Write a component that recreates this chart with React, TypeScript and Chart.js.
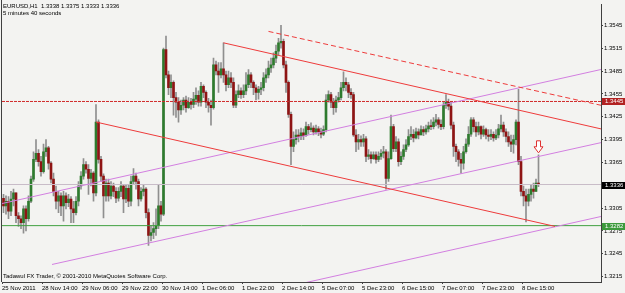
import React, { useEffect, useRef } from 'react';
import { Chart, registerables } from 'chart.js';

Chart.register(...registerables);

const symbolName = 'EURUSD';
const periodName = 'H1';
const timeLeft = '5 minutes 40 seconds';
const copyright = 'Tadawul FX Trader, © 2001-2010 MetaQuotes Software Corp.';

const firstOpen = 1.3318;
const closes = [
  1.3308, 1.3314, 1.3301, 1.3317, 1.3325, 1.3295, 1.3291, 1.3286, 1.3304, 1.3291,
  1.3314, 1.3343, 1.3369, 1.3377, 1.3366, 1.3353, 1.3379, 1.3384, 1.3364, 1.3343,
  1.3327, 1.3314, 1.3321, 1.3308, 1.3321, 1.3312, 1.3317, 1.3304, 1.3299, 1.3314,
  1.3334, 1.3347, 1.3362, 1.3356, 1.3344, 1.3351, 1.3325, 1.3418, 1.3369, 1.3347,
  1.3321, 1.3338, 1.3321, 1.3334, 1.3327, 1.3318, 1.3327, 1.3334, 1.3317, 1.3331,
  1.3314, 1.3340, 1.3347, 1.3340, 1.3317, 1.3327, 1.3330, 1.3299, 1.3269, 1.3273,
  1.3278, 1.3282, 1.3308, 1.3297, 1.3513, 1.3480, 1.3463, 1.3470, 1.3450, 1.3444,
  1.3434, 1.3440, 1.3447, 1.3437, 1.3444, 1.3441, 1.3448, 1.3453, 1.3444, 1.3465,
  1.3457, 1.3444, 1.3440, 1.3437, 1.3493, 1.3485, 1.3480, 1.3488, 1.3480, 1.3467,
  1.3476, 1.3470, 1.3440, 1.3454, 1.3459, 1.3454, 1.3459, 1.3467, 1.3480, 1.3470,
  1.3463, 1.3457, 1.3461, 1.3463, 1.3476, 1.3480, 1.3489, 1.3493, 1.3502, 1.3511,
  1.3522, 1.3524, 1.3493, 1.3470, 1.3428, 1.3386, 1.3395, 1.3401, 1.3399, 1.3404,
  1.3400, 1.3412, 1.3408, 1.3410, 1.3405, 1.3409, 1.3405, 1.3402, 1.3408, 1.3447,
  1.3454, 1.3444, 1.3437, 1.3447, 1.3450, 1.3463, 1.3470, 1.3467, 1.3457, 1.3454,
  1.3401, 1.3392, 1.3395, 1.3392, 1.3396, 1.3373, 1.3375, 1.3370, 1.3375, 1.3369,
  1.3373, 1.3377, 1.3379, 1.3344, 1.3370, 1.3412, 1.3383, 1.3392, 1.3366, 1.3373,
  1.3382, 1.3388, 1.3399, 1.3402, 1.3397, 1.3405, 1.3401, 1.3408, 1.3405, 1.3409,
  1.3413, 1.3412, 1.3418, 1.3421, 1.3415, 1.3412, 1.3440, 1.3444, 1.3439, 1.3414,
  1.3386, 1.3379, 1.3369, 1.3364, 1.3379, 1.3389, 1.3402, 1.3421, 1.3412, 1.3405,
  1.3412, 1.3402, 1.3408, 1.3401, 1.3399, 1.3402, 1.3397, 1.3401, 1.3409, 1.3414,
  1.3405, 1.3399, 1.3392, 1.3389, 1.3395, 1.3418, 1.3366, 1.3327, 1.3321, 1.3314,
  1.3323, 1.3330, 1.3327, 1.3338, 1.3336,
];
const highs = [
  1.3323, 1.3321, 1.3320, 1.3327, 1.3330, 1.3325, 1.3299, 1.3295, 1.3308, 1.3308,
  1.3321, 1.3347, 1.3379, 1.3395, 1.3382, 1.3373, 1.3389, 1.3395, 1.3386, 1.3366,
  1.3351, 1.3334, 1.3327, 1.3325, 1.3327, 1.3325, 1.3323, 1.3320, 1.3314, 1.3320,
  1.3340, 1.3353, 1.3370, 1.3366, 1.3362, 1.3356, 1.3353, 1.3441, 1.3421, 1.3373,
  1.3350, 1.3343, 1.3343, 1.3340, 1.3338, 1.3332, 1.3332, 1.3340, 1.3336, 1.3336,
  1.3335, 1.3347, 1.3357, 1.3351, 1.3343, 1.3332, 1.3336, 1.3332, 1.3304, 1.3282,
  1.3286, 1.3304, 1.3336, 1.3314, 1.3515, 1.3531, 1.3485, 1.3480, 1.3472, 1.3457,
  1.3450, 1.3447, 1.3450, 1.3452, 1.3450, 1.3449, 1.3457, 1.3463, 1.3459, 1.3470,
  1.3467, 1.3459, 1.3449, 1.3447, 1.3502, 1.3498, 1.3496, 1.3496, 1.3522, 1.3485,
  1.3485, 1.3483, 1.3476, 1.3459, 1.3467, 1.3463, 1.3467, 1.3483, 1.3487, 1.3483,
  1.3472, 1.3467, 1.3465, 1.3470, 1.3483, 1.3488, 1.3498, 1.3502, 1.3509, 1.3519,
  1.3528, 1.3545, 1.3527, 1.3498, 1.3472, 1.3431, 1.3405, 1.3408, 1.3408, 1.3410,
  1.3409, 1.3418, 1.3415, 1.3417, 1.3413, 1.3414, 1.3412, 1.3410, 1.3413, 1.3454,
  1.3459, 1.3457, 1.3449, 1.3452, 1.3457, 1.3470, 1.3484, 1.3476, 1.3470, 1.3462,
  1.3457, 1.3408, 1.3402, 1.3400, 1.3402, 1.3399, 1.3382, 1.3379, 1.3379, 1.3379,
  1.3379, 1.3382, 1.3386, 1.3382, 1.3379, 1.3427, 1.3415, 1.3399, 1.3396, 1.3379,
  1.3388, 1.3395, 1.3408, 1.3412, 1.3408, 1.3410, 1.3409, 1.3413, 1.3412, 1.3414,
  1.3418, 1.3421, 1.3424, 1.3428, 1.3424, 1.3421, 1.3444, 1.3454, 1.3448, 1.3444,
  1.3418, 1.3389, 1.3382, 1.3377, 1.3386, 1.3396, 1.3412, 1.3424, 1.3424, 1.3418,
  1.3418, 1.3413, 1.3413, 1.3410, 1.3408, 1.3408, 1.3405, 1.3408, 1.3415, 1.3427,
  1.3418, 1.3409, 1.3405, 1.3401, 1.3401, 1.3421, 1.3461, 1.3373, 1.3334, 1.3330,
  1.3330, 1.3336, 1.3338, 1.3343, 1.3375,
];
const lows = [
  1.3299, 1.3297, 1.3291, 1.3295, 1.3308, 1.3286, 1.3281, 1.3278, 1.3272, 1.3275,
  1.3288, 1.3312, 1.3340, 1.3366, 1.3360, 1.3347, 1.3351, 1.3373, 1.3356, 1.3338,
  1.3321, 1.3304, 1.3299, 1.3295, 1.3288, 1.3304, 1.3307, 1.3286, 1.3286, 1.3296,
  1.3308, 1.3330, 1.3343, 1.3351, 1.3323, 1.3334, 1.3314, 1.3321, 1.3364, 1.3340,
  1.3292, 1.3314, 1.3314, 1.3317, 1.3320, 1.3312, 1.3314, 1.3320, 1.3299, 1.3312,
  1.3307, 1.3308, 1.3336, 1.3330, 1.3308, 1.3314, 1.3321, 1.3292, 1.3256, 1.3262,
  1.3265, 1.3269, 1.3278, 1.3288, 1.3295, 1.3476, 1.3454, 1.3450, 1.3427, 1.3424,
  1.3418, 1.3428, 1.3434, 1.3431, 1.3436, 1.3435, 1.3437, 1.3441, 1.3439, 1.3439,
  1.3450, 1.3437, 1.3431, 1.3414, 1.3435, 1.3480, 1.3457, 1.3476, 1.3470, 1.3459,
  1.3463, 1.3463, 1.3437, 1.3437, 1.3450, 1.3449, 1.3450, 1.3454, 1.3463, 1.3463,
  1.3454, 1.3447, 1.3448, 1.3454, 1.3459, 1.3470, 1.3476, 1.3483, 1.3489, 1.3496,
  1.3506, 1.3515, 1.3489, 1.3457, 1.3424, 1.3362, 1.3379, 1.3389, 1.3392, 1.3395,
  1.3395, 1.3399, 1.3402, 1.3405, 1.3401, 1.3402, 1.3400, 1.3397, 1.3400, 1.3405,
  1.3444, 1.3437, 1.3428, 1.3431, 1.3444, 1.3447, 1.3459, 1.3459, 1.3450, 1.3449,
  1.3399, 1.3379, 1.3382, 1.3386, 1.3386, 1.3366, 1.3369, 1.3364, 1.3369, 1.3364,
  1.3366, 1.3369, 1.3371, 1.3330, 1.3340, 1.3369, 1.3379, 1.3379, 1.3360, 1.3362,
  1.3369, 1.3379, 1.3386, 1.3395, 1.3392, 1.3396, 1.3396, 1.3401, 1.3400, 1.3402,
  1.3405, 1.3408, 1.3409, 1.3413, 1.3410, 1.3408, 1.3409, 1.3436, 1.3434, 1.3409,
  1.3373, 1.3366, 1.3360, 1.3351, 1.3356, 1.3377, 1.3386, 1.3399, 1.3405, 1.3399,
  1.3401, 1.3396, 1.3399, 1.3396, 1.3393, 1.3395, 1.3393, 1.3395, 1.3397, 1.3405,
  1.3399, 1.3392, 1.3386, 1.3379, 1.3377, 1.3388, 1.3362, 1.3321, 1.3308, 1.3287,
  1.3308, 1.3314, 1.3318, 1.3327, 1.3333,
];
const opens = closes.map((c, i) => (i === 0 ? firstOpen : closes[i - 1]));

const dateLabels = [
  '25 Nov 2011', '28 Nov 14:00', '29 Nov 06:00', '29 Nov 22:00', '30 Nov 14:00',
  '1 Dec 06:00', '1 Dec 22:00', '2 Dec 14:00', '5 Dec 07:00', '5 Dec 23:00',
  '6 Dec 15:00', '7 Dec 07:00', '7 Dec 23:00', '8 Dec 15:00',
];
const barsPerLabel = 16;
const priceTicks = [1.3545, 1.3515, 1.3485, 1.3455, 1.3425, 1.3395, 1.3365, 1.3305, 1.3275, 1.3245, 1.3215];

const levelResistance = 1.3445;
const levelBid = 1.3336;
const levelSupport = 1.3282;

// trend lines: [bar index, price] endpoints
const redUpper = [[88, 1.3522], [239, 1.3409]];
const redDashed = [[106, 1.3537], [239, 1.344]];
const redLower = [[37, 1.3418], [220.6, 1.3281]];
const violetMid = [[-0.6, 1.3311], [239, 1.3487]];
const violetLow = [[19.4, 1.3231], [239, 1.3391]];
const violetBottom = [[120.6, 1.3207], [239, 1.3294]];

const xMin = -0.6;
const xMax = 239;
const yMin = 1.3208;
const yMax = 1.35722;

const FONT = '"Liberation Sans", Arial, sans-serif';
const BG = '#f3f3f1';
const UP = '#2e7b2e';
const DOWN = '#8e1414';
const WICK = '#8f8f8f';
const RED = '#ee3b3b';
const VIOLET = '#d27fe0';

export default function App() {
  const ref = useRef<HTMLCanvasElement | null>(null);

  useEffect(() => {
    const canvas = ref.current;
    if (!canvas) return;
    const idx = closes.map((_, i) => i);
    const last = closes.length - 1;

    const lineDs = (pts: number[][], color: string, dash: number[] = []) => ({
      type: 'line' as const,
      data: pts.map(([x, y]) => ({ x, y })),
      borderColor: color,
      borderWidth: 1,
      borderDash: dash,
      pointRadius: 0,
      fill: false,
      tension: 0,
      order: 0,
    });
    const hLine = (level: number, color: string, dash: number[] = []) =>
      lineDs([[xMin, level], [xMax, level]], color, dash);

    const decor = {
      id: 'mt4decor',
      beforeDraw(chart: any) {
        const { ctx, width, height } = chart;
        ctx.save();
        ctx.fillStyle = BG;
        ctx.fillRect(0, 0, width, height);
        ctx.restore();
      },
      afterDraw(chart: any) {
        const { ctx, chartArea: a, scales } = chart;
        const x = scales.x;
        const y = scales.y;
        ctx.save();
        ctx.strokeStyle = '#404040';
        ctx.lineWidth = 1;
        ctx.beginPath();
        ctx.moveTo(a.left - 0.5, 0);
        ctx.lineTo(a.left - 0.5, a.bottom);
        ctx.stroke();

        ctx.font = `6px ${FONT}`;
        ctx.textBaseline = 'middle';
        ctx.textAlign = 'left';
        ctx.fillStyle = '#000';
        const header = `${symbolName},${periodName}  ${opens[last].toFixed(4)} ${highs[last].toFixed(4)} ${lows[last].toFixed(4)} ${closes[last].toFixed(4)}`;
        ctx.fillText(header, 3, 6);
        ctx.fillText(timeLeft, 3, 13);
        ctx.fillText(copyright, 3, 276);

        const boxes: [number, string][] = [
          [levelResistance, '#b22222'],
          [levelBid, '#000000'],
          [levelSupport, '#3c9a3c'],
        ];
        boxes.forEach(([p, c]) => {
          const py = Math.round(y.getPixelForValue(p));
          ctx.fillStyle = c;
          ctx.fillRect(a.right + 1, py - 3, 24, 7);
          ctx.fillStyle = '#fff';
          ctx.fillText(p.toFixed(4), a.right + 4, py + 0.5);
        });

        // arrow above last bar
        const cx = x.getPixelForValue(last);
        const tip = y.getPixelForValue(highs[last]) - 2;
        ctx.beginPath();
        ctx.moveTo(cx - 2, tip - 12);
        ctx.lineTo(cx + 2, tip - 12);
        ctx.lineTo(cx + 2, tip - 6);
        ctx.lineTo(cx + 4.5, tip - 6);
        ctx.lineTo(cx, tip);
        ctx.lineTo(cx - 4.5, tip - 6);
        ctx.lineTo(cx - 2, tip - 6);
        ctx.closePath();
        ctx.fillStyle = '#ffffff';
        ctx.fill();
        ctx.strokeStyle = '#e03030';
        ctx.stroke();
        ctx.restore();
      },
    };

    const chart = new Chart(canvas, {
      type: 'bar',
      data: {
        datasets: [
          lineDs(redUpper, RED),
          lineDs(redDashed, RED, [5, 3]),
          lineDs(redLower, RED),
          lineDs(violetMid, VIOLET),
          lineDs(violetLow, VIOLET),
          lineDs(violetBottom, VIOLET),
          hLine(levelResistance, '#d02a2a', [3, 1]),
          hLine(levelBid, '#c8bcc8'),
          hLine(levelSupport, '#40a040'),
          {
            type: 'bar' as const,
            data: idx.map((i) => ({ x: i, y: [opens[i], closes[i]] })),
            backgroundColor: idx.map((i) => (closes[i] >= opens[i] ? UP : DOWN)),
            barThickness: 2,
            minBarLength: 1,
            grouped: false,
            order: 1,
          },
          {
            type: 'bar' as const,
            data: idx.map((i) => ({ x: i, y: [lows[i], highs[i]] })),
            backgroundColor: WICK,
            barThickness: 1,
            grouped: false,
            order: 2,
          },
        ] as any,
      },
      options: {
        animation: false,
        responsive: false,
        devicePixelRatio: 1,
        events: [],
        layout: { padding: { left: 2, top: 1, right: 0, bottom: 0 } },
        plugins: { legend: { display: false }, tooltip: { enabled: false } },
        scales: {
          x: {
            type: 'linear',
            min: xMin,
            max: xMax,
            offset: false,
            grid: { display: true, offset: false, drawOnChartArea: false, tickLength: 2, color: '#404040' },
            border: { display: true, color: '#404040' },
            ticks: {
              autoSkip: false,
              maxRotation: 0,
              minRotation: 0,
              align: 'start',
              padding: 1,
              color: '#000',
              font: { family: FONT, size: 6 },
              callback: (_v: any, i: number) => dateLabels[i],
            },
            afterBuildTicks: (s: any) => {
              s.ticks = dateLabels.map((_, k) => ({ value: xMin + k * barsPerLabel }));
            },
            afterFit: (s: any) => {
              s.height = 11;
            },
          },
          y: {
            type: 'linear',
            position: 'right',
            min: yMin,
            max: yMax,
            grid: { display: true, drawOnChartArea: false, tickLength: 2, color: '#404040' },
            border: { display: true, color: '#404040' },
            ticks: {
              padding: 1,
              color: '#000',
              font: { family: FONT, size: 6 },
              callback: (v: any) => Number(v).toFixed(4),
            },
            afterBuildTicks: (s: any) => {
              s.ticks = priceTicks.map((v) => ({ value: v }));
            },
            afterFit: (s: any) => {
              s.width = 24;
            },
          },
        },
      } as any,
      plugins: [decor],
    });
    return () => chart.destroy();
  }, []);

  return (
    <div style={{ position: 'fixed', left: 0, top: 0, width: 625, height: 293 }}>
      <canvas ref={ref} width={625} height={293} style={{ width: 625, height: 293, display: 'block' }} />
    </div>
  );
}
